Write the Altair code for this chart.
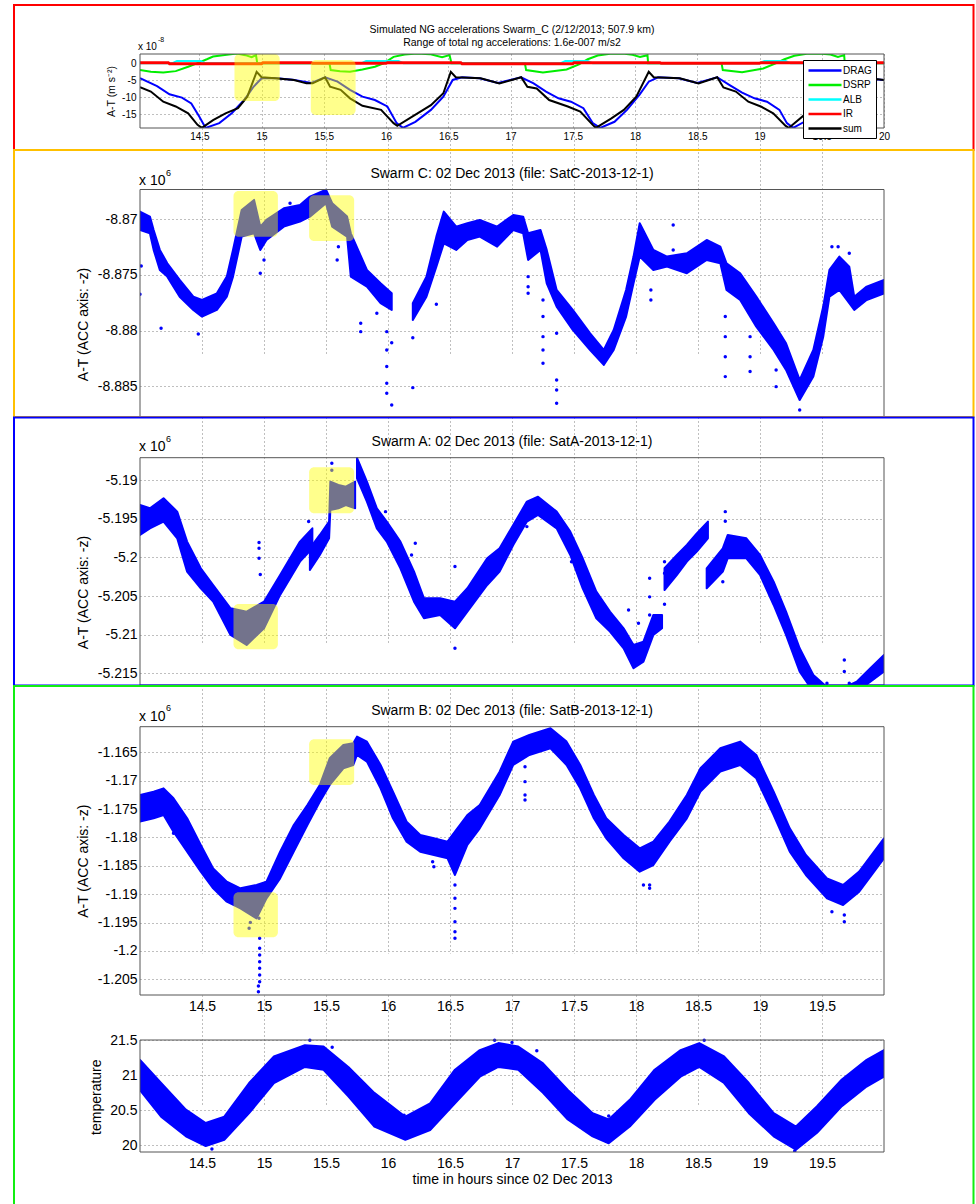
import altair as alt
import pandas as pd

FONT = "Liberation Sans, Arial, Helvetica, sans-serif"
BLUE = "#0000ff"
BORDER = "#555555"
PLOT_W = 744

# time axis (hours since 02 Dec 2013)
T_DOMAIN = [14.0, 20.0]
T_DOMAIN_NG = [14.023, 20.0]
T_TICKS = [14.5, 15.0, 15.5, 16.0, 16.5, 17.0, 17.5, 18.0, 18.5, 19.0, 19.5]
T_TICKS_NG = T_TICKS + [20.0]

# ---------------- simulated non-gravitational accelerations (x 1e-8 m/s2) ----------------
NG_TITLE = ["Simulated NG accelerations Swarm_C (2/12/2013; 507.9 km)",
            "Range of total ng accelerations: 1.6e-007 m/s2"]
NG_Y_DOMAIN = [-19.03, 2.74]
NG_Y_TICKS = [-15, -10, -5, 0]
SERIES = ["DRAG", "DSRP", "ALB", "IR", "sum"]
SERIES_COLORS = ["#0000ff", "#00ee00", "#00ffff", "#ff0000", "#000000"]
SERIES_WIDTHS = [2, 2, 2, 3, 2]

DRAG_T = [14.023, 14.16, 14.26, 14.36, 14.435, 14.50, 14.55, 14.66, 14.76, 14.86,
          14.935, 15.00, 15.10, 15.25, 15.40, 15.51, 15.61, 15.71, 15.81, 15.91,
          16.01, 16.085, 16.135, 16.235, 16.36, 16.46, 16.535, 16.61, 16.75, 16.90,
          17.085, 17.185, 17.285, 17.385, 17.485, 17.585, 17.66, 17.72, 17.835, 17.935,
          18.035, 18.11, 18.185, 18.35, 18.50, 18.66, 18.76, 18.86, 18.96, 19.06,
          19.16, 19.22, 19.27, 19.36, 19.51, 19.64, 19.74, 19.90, 20.00]
DRAG_V = [-4.4, -6.7, -9.1, -10.1, -11.8, -15.7, -19.0, -17.6, -14.7, -10.8,
          -6.9, -4.4, -4.3, -4.8, -5.8, -4.1, -5.4, -7.8, -9.8, -10.8,
          -12.7, -17.6, -19.0, -17.2, -13.7, -9.8, -4.9, -4.1, -4.4, -5.8,
          -4.1, -5.9, -8.3, -10.3, -11.3, -13.2, -17.6, -19.0, -17.2, -13.7,
          -9.3, -5.4, -4.1, -4.4, -5.8, -4.1, -6.4, -8.6, -10.3, -11.3,
          -13.7, -17.6, -19.0, -17.2, -12.7, -7.8, -4.4, -4.6, -4.9]

DSRP_T = [14.023, 14.11, 14.21, 14.31, 14.41, 14.48, 14.56, 14.61, 14.72, 14.80,
          14.87, 14.92, 14.955, 14.965, 15.545, 15.555, 15.63, 15.71, 15.81, 15.91,
          15.98, 16.06, 16.15, 16.25, 16.35, 16.45, 16.51, 16.525, 17.115, 17.125,
          17.26, 17.45, 17.55, 17.62, 17.70, 17.80, 17.90, 17.98, 18.04, 18.10,
          18.105, 18.695, 18.705, 18.86, 19.03, 19.13, 19.20, 19.28, 19.38, 19.48,
          19.57, 19.63, 19.68, 19.685, 20.00]
DSRP_V = [-2.0, -2.5, -2.7, -2.3, -1.0, 0.0, 1.2, 2.0, 2.5, 2.9,
          2.4, 1.8, 2.4, 0.0, 0.0, -2.0, -2.3, -2.5, -1.8, -1.0,
          0.0, 1.9, 2.6, 2.9, 2.7, 1.8, 2.4, 0.0, 0.0, -2.0,
          -2.7, -1.8, -0.3, 1.2, 2.3, 2.8, 2.9, 2.5, 1.9, 2.4,
          0.0, 0.0, -2.0, -2.6, -1.5, 0.0, 1.2, 2.2, 2.8, 2.9,
          2.6, 1.9, 2.4, 0.0, 0.0]

ALB_T = [14.023, 14.28, 14.32, 14.51, 14.55, 15.80, 15.84, 16.10, 16.14,
         17.40, 17.44, 17.62, 17.66, 19.00, 19.04, 19.21, 19.25, 20.00]
ALB_V = [0.0, 0.0, 0.7, 0.7, 0.0, 0.0, 0.7, 0.7, 0.0,
         0.0, 0.7, 0.7, 0.0, 0.0, 0.7, 0.7, 0.0, 0.0]

IR_T = [14.023, 14.25, 14.26, 15.00, 15.01, 15.40, 15.41, 16.00, 16.01,
        16.60, 16.61, 17.50, 17.51, 18.20, 18.21, 19.00, 19.01, 20.00]
IR_V = [0.2, 0.2, -0.1, -0.1, 0.2, 0.2, 0.0, 0.0, 0.2,
        0.2, -0.1, -0.1, 0.2, 0.2, 0.0, 0.0, 0.2, 0.2]

SUM_T = [14.023, 14.11, 14.21, 14.31, 14.41, 14.485, 14.52, 14.61, 14.71, 14.81,
         14.885, 14.96, 15.00, 15.11, 15.26, 15.36, 15.41, 15.51, 15.55, 15.635,
         15.71, 15.81, 15.96, 16.06, 16.09, 16.21, 16.36, 16.46, 16.52, 16.56,
         16.76, 16.91, 17.01, 17.085, 17.135, 17.21, 17.31, 17.46, 17.56, 17.66,
         17.685, 17.81, 17.91, 18.01, 18.11, 18.15, 18.36, 18.51, 18.66, 18.71,
         18.81, 18.91, 19.01, 19.11, 19.21, 19.235, 19.36, 19.51, 19.61, 19.69,
         19.73, 19.90, 20.00]
SUM_V = [-7.0, -8.3, -11.3, -12.7, -14.7, -18.1, -19.0, -16.7, -14.7, -13.2,
         -9.8, -2.5, -4.1, -4.4, -4.9, -5.9, -5.9, -4.1, -6.9, -7.8,
         -10.3, -12.5, -13.7, -17.6, -18.4, -15.7, -12.3, -8.8, -2.5, -4.1,
         -4.4, -5.9, -4.9, -4.1, -6.9, -7.4, -10.8, -12.7, -14.2, -18.1,
         -19.0, -16.2, -13.7, -9.8, -2.5, -4.1, -4.4, -5.9, -4.1, -7.1,
         -8.3, -11.3, -12.7, -14.7, -18.4, -19.0, -15.2, -12.8, -9.5, -2.5,
         -4.1, -4.5, -4.9]

NG_BOX_T0 = [14.782, 15.395]
NG_BOX_T1 = [15.145, 15.755]
NG_BOX_V0 = [2.74, 0.97]
NG_BOX_V1 = [-11.1, -15.2]

# ---------------- Swarm C (A-T, x 1e6) ----------------
C_TITLE = "Swarm C: 02 Dec 2013 (file: SatC-2013-12-1)"
C_Y_DOMAIN = [-8.887757, -8.867325]
C_Y_TICKS = [-8.885, -8.88, -8.875, -8.87]
C1_T = [14.00, 14.08, 14.11, 14.16, 14.22, 14.32, 14.43, 14.50, 14.62, 14.70,
        14.75, 14.82, 14.92, 14.97, 15.02, 15.16, 15.29, 15.37, 15.50, 15.55,
        15.67, 15.70, 15.83, 15.94, 16.03]
C1_HI = [-8.86931, -8.86976, -8.87096, -8.87275, -8.87395, -8.87545, -8.87695, -8.87725, -8.87665, -8.87515,
         -8.87275, -8.86916, -8.86826, -8.87066, -8.87006, -8.86901, -8.86871, -8.86796, -8.86735, -8.86856,
         -8.86976, -8.87126, -8.87455, -8.87575, -8.87665]
C1_LO = [-8.87096, -8.87126, -8.87275, -8.87455, -8.87515, -8.87695, -8.87814, -8.87874, -8.87814, -8.87695,
         -8.87515, -8.87156, -8.87126, -8.87275, -8.87186, -8.87066, -8.87021, -8.86976, -8.86856, -8.87066,
         -8.87156, -8.87515, -8.87605, -8.87754, -8.87814]
C2_T = [16.20, 16.31, 16.39, 16.45, 16.55, 16.64, 16.74, 16.88, 17.01, 17.09,
        17.13, 17.23, 17.28, 17.36, 17.49, 17.63, 17.74, 17.82, 17.92, 17.98,
        18.03, 18.14, 18.25, 18.41, 18.57, 18.68, 18.73, 18.84, 18.97, 19.11,
        19.21, 19.32, 19.43, 19.51, 19.56, 19.64, 19.72, 19.76, 19.86, 20.00]
C2_HI = [-8.87754, -8.87515, -8.87156, -8.86931, -8.87066, -8.87036, -8.87006, -8.87066, -8.86961, -8.86976,
         -8.87126, -8.87096, -8.87275, -8.87635, -8.87814, -8.88024, -8.88174, -8.87994, -8.87635, -8.87335,
         -8.87036, -8.87275, -8.87335, -8.87305, -8.87186, -8.87246, -8.87395, -8.87485, -8.87695, -8.87934,
         -8.88114, -8.88443, -8.88174, -8.87784, -8.87455, -8.87335, -8.87425, -8.87695, -8.87605, -8.87545]
C2_LO = [-8.87904, -8.87695, -8.87425, -8.87216, -8.87275, -8.87186, -8.87156, -8.87246, -8.87096, -8.87126,
         -8.87365, -8.87275, -8.87575, -8.87784, -8.87994, -8.88174, -8.88308, -8.88174, -8.87874, -8.87575,
         -8.87335, -8.87455, -8.87425, -8.87485, -8.87365, -8.87395, -8.87635, -8.87725, -8.87964, -8.88174,
         -8.88353, -8.88623, -8.88413, -8.88054, -8.87695, -8.87635, -8.87754, -8.87814, -8.87725, -8.87665]
C_OUT_T = [14.01, 14.00, 14.17, 14.47, 15.21, 15.00, 14.97, 15.59, 15.60, 15.78,
           15.78, 15.91, 15.99, 15.99, 15.99, 15.99, 15.99, 16.03, 16.03, 16.20,
           16.20, 16.39, 17.13, 17.13, 17.13, 17.25, 17.25, 17.25, 17.25, 17.25,
           17.36, 17.36, 17.36, 17.36, 18.12, 18.12, 18.30, 18.30, 18.72, 18.72,
           18.72, 18.72, 18.92, 18.92, 18.92, 19.13, 19.13, 19.27, 19.32, 19.58,
           19.63, 19.72]
C_OUT_V = [-8.87419, -8.87674, -8.87979, -8.88030, -8.86856, -8.87365, -8.87485, -8.87365, -8.87246, -8.87934,
           -8.88009, -8.87844, -8.88009, -8.88174, -8.88323, -8.88473, -8.88563, -8.88108, -8.88668, -8.88063,
           -8.88512, -8.87763, -8.87515, -8.87605, -8.87665, -8.87725, -8.87874, -8.88054, -8.88174, -8.88293,
           -8.88024, -8.88443, -8.88533, -8.88653, -8.87635, -8.87725, -8.87051, -8.87275, -8.87874, -8.88054,
           -8.88234, -8.88413, -8.88054, -8.88234, -8.88368, -8.88353, -8.88503, -8.88353, -8.88713, -8.87246,
           -8.87246, -8.87305]
C_BOX_T0 = [14.754, 15.364]
C_BOX_T1 = [15.112, 15.727]
C_BOX_V0 = [-8.86746, -8.86785]
C_BOX_V1 = [-8.87156, -8.87195]

# ---------------- Swarm A ----------------
A_TITLE = "Swarm A: 02 Dec 2013 (file: SatA-2013-12-1)"
A_Y_DOMAIN = [-5.216516, -5.187073]
A_Y_TICKS = [-5.215, -5.21, -5.205, -5.2, -5.195, -5.19]
A1_T = [14.00, 14.08, 14.19, 14.30, 14.38, 14.49, 14.59, 14.73, 14.86, 15.00, 15.13, 15.29, 15.39]
A1_HI = [-5.19320, -5.19363, -5.19233, -5.19406, -5.19794, -5.20140, -5.20356, -5.20658, -5.20701, -5.20572,
         -5.20226, -5.19794, -5.19622]
A1_LO = [-5.19708, -5.19622, -5.19535, -5.19751, -5.20183, -5.20399, -5.20572, -5.21003, -5.21133, -5.20917,
         -5.20485, -5.20054, -5.19881]
A2_T = [15.37, 15.45, 15.525, 15.535, 15.60, 15.66, 15.735]
A2_HI = [-5.19881, -5.19708, -5.19535, -5.19017, -5.19060, -5.19082, -5.19017]
A2_LO = [-5.20161, -5.19967, -5.19751, -5.19384, -5.19363, -5.19320, -5.19363]
A3_T = [15.75, 15.83, 15.91, 15.99, 16.10, 16.21, 16.29, 16.42, 16.54, 16.64,
        16.80, 16.90, 17.01, 17.12, 17.21, 17.36, 17.47, 17.57, 17.68, 17.79,
        17.90, 17.98, 18.06, 18.14, 18.21]
A3_HI = [-5.18710, -5.19017, -5.19363, -5.19535, -5.19794, -5.20183, -5.20529, -5.20529, -5.20572, -5.20399,
         -5.20010, -5.19881, -5.19579, -5.19276, -5.19212, -5.19406, -5.19665, -5.20010, -5.20442, -5.20701,
         -5.20917, -5.21133, -5.21090, -5.20744, -5.20744]
A3_LO = [-5.18974, -5.19276, -5.19622, -5.19794, -5.20140, -5.20572, -5.20788, -5.20744, -5.20917, -5.20701,
         -5.20356, -5.20183, -5.19838, -5.19535, -5.19449, -5.19622, -5.19967, -5.20399, -5.20788, -5.20960,
         -5.21176, -5.21435, -5.21349, -5.21003, -5.20917]
A4_T = [18.23, 18.33, 18.41, 18.49, 18.58]
A4_HI = [-5.20140, -5.19967, -5.19838, -5.19687, -5.19535]
A4_LO = [-5.20421, -5.20226, -5.20054, -5.19924, -5.19751]
A5_T = [18.57, 18.70, 18.74, 18.89, 19.00, 19.11, 19.21, 19.32, 19.43, 19.59, 19.78, 19.89, 20.00]
A5_HI = [-5.20140, -5.19881, -5.19708, -5.19751, -5.19967, -5.20313, -5.20701, -5.21176, -5.21522, -5.21750,
         -5.21608, -5.21435, -5.21263]
A5_LO = [-5.20399, -5.20183, -5.20010, -5.20010, -5.20226, -5.20615, -5.21003, -5.21478, -5.21738, -5.21950,
         -5.21738, -5.21608, -5.21478]
A_OUT_T = [14.96, 14.96, 14.96, 14.97, 15.36, 15.547, 15.547, 15.98, 16.19, 16.22,
           16.54, 16.54, 17.12, 17.48, 17.94, 18.02, 18.11, 18.11, 18.11, 18.23,
           18.23, 18.23, 18.70, 18.72, 18.72, 19.68, 19.68, 19.54, 19.72]
A_OUT_V = [-5.19807, -5.19880, -5.20010, -5.20220, -5.19535, -5.18780, -5.18870, -5.19406, -5.19967, -5.19816,
           -5.20118, -5.21176, -5.19600, -5.20054, -5.20680, -5.20852, -5.20269, -5.20510, -5.20744, -5.20054,
           -5.20205, -5.20606, -5.20313, -5.19406, -5.19530, -5.21327, -5.21478, -5.21630, -5.21630]
A_BOX_T0 = [14.754, 15.364]
A_BOX_T1 = [15.112, 15.727]
A_BOX_V0 = [-5.20602, -5.18832]
A_BOX_V1 = [-5.21189, -5.19427]

# ---------------- Swarm B ----------------
B_TITLE = "Swarm B: 02 Dec 2013 (file: SatB-2013-12-1)"
B_Y_DOMAIN = [-1.207767, -1.160489]
B_Y_TICKS = [-1.205, -1.2, -1.195, -1.19, -1.185, -1.18, -1.175, -1.17, -1.165]
B1_T = [14.00, 14.11, 14.19, 14.27, 14.38, 14.49, 14.59, 14.70, 14.81, 14.94,
        15.02, 15.13, 15.24, 15.35, 15.45, 15.53, 15.64, 15.72, 15.75, 15.83,
        15.94, 16.04, 16.15, 16.26, 16.37, 16.48, 16.54, 16.64, 16.74, 16.90,
        17.01, 17.14, 17.31, 17.44, 17.55, 17.66, 17.76, 17.90, 18.03, 18.14,
        18.27, 18.41, 18.52, 18.68, 18.84, 18.97, 19.11, 19.24, 19.37, 19.54,
        19.67, 19.80, 20.00]
B1_HI = [-1.17252, -1.17193, -1.17135, -1.17311, -1.17663, -1.18133, -1.18545, -1.18780, -1.18897, -1.18838,
         -1.18780, -1.18251, -1.17781, -1.17428, -1.17076, -1.16606, -1.16371, -1.16341, -1.16224, -1.16312,
         -1.16723, -1.17193, -1.17722, -1.17957, -1.18016, -1.18075, -1.17898, -1.17605, -1.17428, -1.16841,
         -1.16312, -1.16195, -1.16077, -1.16312, -1.16723, -1.17252, -1.17663, -1.17957, -1.18192, -1.18075,
         -1.17722, -1.17252, -1.16782, -1.16429, -1.16312, -1.16547, -1.17193, -1.17840, -1.18310, -1.18721,
         -1.18838, -1.18603, -1.18016]
B1_LO = [-1.17722, -1.17663, -1.17605, -1.17898, -1.18251, -1.18603, -1.18897, -1.19132, -1.19250, -1.19426,
         -1.19073, -1.18721, -1.18251, -1.17781, -1.17370, -1.17076, -1.16782, -1.16723, -1.16547, -1.16665,
         -1.17135, -1.17663, -1.18075, -1.18251, -1.18310, -1.18368, -1.18662, -1.18133, -1.17840, -1.17252,
         -1.16723, -1.16547, -1.16429, -1.16723, -1.17135, -1.17663, -1.18016, -1.18368, -1.18603, -1.18486,
         -1.18075, -1.17663, -1.17193, -1.16841, -1.16723, -1.16958, -1.17605, -1.18251, -1.18662, -1.19073,
         -1.19191, -1.18956, -1.18368]
B_OUT_T = [14.27, 14.89, 14.88, 14.96, 14.965, 14.965, 14.965, 14.965, 14.965, 14.965,
           14.965, 14.955, 14.955, 16.54, 16.54, 16.54, 16.54, 16.54, 16.54, 16.37,
           16.36, 17.105, 17.105, 17.105, 17.105, 18.06, 18.11, 18.11, 19.58, 19.68,
           19.68]
B_OUT_V = [-1.17927, -1.19497, -1.19602, -1.19426, -1.19778, -1.19954, -1.20072, -1.20190, -1.20307, -1.20425,
           -1.20542, -1.20620, -1.20720, -1.18838, -1.19073, -1.19250, -1.19485, -1.19661, -1.19778, -1.18515,
           -1.18427, -1.16753, -1.17017, -1.17252, -1.17340, -1.18838, -1.18838, -1.18897, -1.19308, -1.19367,
           -1.19485]
B_BOX_T0 = [14.754, 15.364]
B_BOX_T1 = [15.112, 15.727]
B_BOX_V0 = [-1.18967, -1.16271]
B_BOX_V1 = [-1.19760, -1.17076]

# ---------------- temperature ----------------
TEMP_Y_DOMAIN = [19.906, 21.504]
TEMP_Y_TICKS = [20.0, 20.5, 21.0, 21.5]
TEMP_T = [14.00, 14.17, 14.37, 14.53, 14.68, 14.88, 15.08, 15.33, 15.48, 15.68,
          15.89, 16.14, 16.34, 16.54, 16.74, 16.89, 17.05, 17.25, 17.45, 17.65,
          17.78, 17.95, 18.15, 18.36, 18.51, 18.71, 18.91, 19.11, 19.29, 19.46,
          19.66, 19.86, 20.00]
TEMP_HI = [21.22, 20.89, 20.51, 20.32, 20.41, 20.89, 21.27, 21.43, 21.41, 21.12,
           20.75, 20.41, 20.60, 21.08, 21.36, 21.46, 21.41, 21.17, 20.79, 20.46,
           20.37, 20.65, 21.08, 21.36, 21.46, 21.27, 20.89, 20.46, 20.27, 20.56,
           20.94, 21.22, 21.36]
TEMP_LO = [20.79, 20.41, 20.13, 19.99, 20.08, 20.46, 20.89, 21.12, 21.08, 20.70,
           20.27, 20.08, 20.22, 20.60, 20.98, 21.12, 21.08, 20.75, 20.37, 20.13,
           20.03, 20.27, 20.65, 20.98, 21.12, 20.89, 20.46, 20.13, 19.94, 20.18,
           20.56, 20.84, 20.98]
TEMP_OUT_T = [14.58, 15.37, 15.55, 16.86, 17.00, 17.20, 18.55, 19.28, 17.78, 16.13]
TEMP_OUT_V = [19.95, 21.50, 21.40, 21.50, 21.47, 21.35, 21.50, 19.92, 20.42, 20.43]

X_TITLE = "time in hours since 02 Dec 2013"
Y_TITLE = "A-T (ACC axis: -z)"

# frame outlines around each block of the figure (pixel offsets from each plot's origin)
FRAME_X0, FRAME_X1 = -126, 833.5


def minus_expr(fmt):
    return "replace(format(datum.value, '%s'), '\u2212', '-')" % fmt


def band_frame(segments):
    rows = []
    for k, (ts, his, los) in enumerate(segments):
        assert len(ts) == len(his) == len(los)
        for t, h, l in zip(ts, his, los):
            rows.append({"seg": k, "t": t, "hi": h, "lo": l})
    return pd.DataFrame(rows)


def box_frame(t0, t1, v0, v1):
    return pd.DataFrame({"x0": t0, "x1": t1, "y0": v0, "y1": v1})


def text_layer(label, x, y, size, align="left"):
    return alt.Chart(pd.DataFrame({"label": [label]})).mark_text(
        font=FONT, fontSize=size, align=align, baseline="middle", color="black"
    ).encode(x=alt.value(x), y=alt.value(y), text="label:N")


def frame_layer(color, y0, y1):
    return alt.Chart(pd.DataFrame({"k": [0]})).mark_rect(
        filled=False, stroke=color, strokeWidth=2
    ).encode(x=alt.value(FRAME_X0), x2=alt.value(FRAME_X1), y=alt.value(y0), y2=alt.value(y1))


def axes_box(xs, ys, xax, yax, xdom, ydom):
    df = pd.DataFrame({"x0": [xdom[0]], "x1": [xdom[1]], "y0": [ydom[0]], "y1": [ydom[1]]})
    return alt.Chart(df).mark_rect(filled=False, stroke=BORDER, strokeWidth=1).encode(
        x=alt.X("x0:Q", scale=xs, axis=xax), x2="x1:Q",
        y=alt.Y("y0:Q", scale=ys, axis=yax), y2="y1:Q")


def highlight(xs, ys, xax, yax, boxes):
    return alt.Chart(boxes).mark_rect(color="#ffff00", opacity=0.45, cornerRadius=5).encode(
        x=alt.X("x0:Q", scale=xs, axis=xax), x2="x1:Q",
        y=alt.Y("y0:Q", scale=ys, axis=yax), y2="y1:Q")


def data_panel(bands, out_t, out_v, ydom, yrange, ticks, fmt,
               ytitle, ytitle_x, ytitle_y, xlabels, xtitle=None, boxes=None):
    xs = alt.Scale(domain=T_DOMAIN, nice=False, zero=False)
    ys = alt.Scale(domain=ydom, range=yrange, nice=False, zero=False)
    xaxis = alt.Axis(values=T_TICKS, labels=xlabels, format="~g", ticks=False, tickSize=0,
                     domain=False, grid=True, labelFontSize=14, labelPadding=4,
                     labelFlush=False, labelOverlap=False,
                     title=xtitle, titleFontSize=14, titlePadding=2)
    yaxis = alt.Axis(values=ticks, labelExpr=minus_expr(fmt), ticks=False, tickSize=0,
                     domain=False, grid=True, labelFontSize=14, labelPadding=3,
                     title=ytitle, titleFontSize=14, titleX=ytitle_x, titleY=ytitle_y,
                     titleBaseline="middle")
    band = alt.Chart(band_frame(bands)).mark_area(
        color=BLUE, stroke=BLUE, strokeWidth=2, strokeJoin="round", opacity=1, clip=True
    ).encode(
        x=alt.X("t:Q", scale=xs, axis=xaxis),
        y=alt.Y("hi:Q", scale=ys, axis=yaxis),
        y2="lo:Q",
        detail="seg:N",
    )
    pts = alt.Chart(pd.DataFrame({"t": out_t, "v": out_v})).mark_circle(
        size=12, color=BLUE, opacity=1, clip=True
    ).encode(x=alt.X("t:Q", scale=xs, axis=xaxis), y=alt.Y("v:Q", scale=ys, axis=yaxis))
    layers = [band, pts]
    if boxes is not None:
        layers.append(highlight(xs, ys, xaxis, yaxis, boxes))
    layers.append(axes_box(xs, ys, xaxis, yaxis, T_DOMAIN, ydom))
    return layers


# ---------------- top panel ----------------
ng_xs = alt.Scale(domain=T_DOMAIN_NG, nice=False, zero=False)
ng_ys = alt.Scale(domain=NG_Y_DOMAIN, nice=False, zero=False)
ng_df = pd.concat([
    pd.DataFrame({"series": name, "t": ts, "v": vs})
    for name, ts, vs in zip(SERIES, [DRAG_T, DSRP_T, ALB_T, IR_T, SUM_T],
                            [DRAG_V, DSRP_V, ALB_V, IR_V, SUM_V])
])
# legend line samples run from the entry origin to the right of the nominal symbol box
ng_legend = alt.Legend(orient="none", legendX=663, legendY=6, title=None,
                       fillColor="white", strokeColor="black", padding=4, cornerRadius=0,
                       symbolType="M-1,0H5.6", symbolSize=100, symbolStrokeWidth=2.5,
                       labelFontSize=10, labelFont=FONT, labelOffset=23, rowPadding=2.5)
ng_xaxis = alt.Axis(values=T_TICKS_NG, format="~g", ticks=False, tickSize=0, domain=False,
                    grid=True, labelFontSize=10, labelPadding=3, labelFlush=False,
                    labelOverlap=False, title=None)
ng_yaxis = alt.Axis(values=NG_Y_TICKS, labelExpr=minus_expr("~g"), ticks=False, tickSize=0,
                    domain=False, grid=True, labelFontSize=10, labelPadding=4,
                    title="A-T (m s\u207b\u00b2)", titleFontSize=10.5, titleX=-29, titleY=37,
                    titleBaseline="middle")
ng_layers = []
for name, w in zip(SERIES, SERIES_WIDTHS):
    ng_layers.append(
        alt.Chart(ng_df).transform_filter(alt.datum.series == name).mark_line(
            strokeWidth=w, clip=True
        ).encode(
            x=alt.X("t:Q", scale=ng_xs, axis=ng_xaxis),
            y=alt.Y("v:Q", scale=ng_ys, axis=ng_yaxis),
            color=alt.Color("series:N", scale=alt.Scale(domain=SERIES, range=SERIES_COLORS),
                            legend=ng_legend),
        )
    )
ng_layers.append(highlight(ng_xs, ng_ys, ng_xaxis, ng_yaxis,
                           box_frame(NG_BOX_T0, NG_BOX_T1, NG_BOX_V0, NG_BOX_V1)))
ng_layers.append(axes_box(ng_xs, ng_ys, ng_xaxis, ng_yaxis, T_DOMAIN_NG, NG_Y_DOMAIN))
ng_layers += [
    text_layer(NG_TITLE[0], 372, -24, 10.5, align="center"),
    text_layer(NG_TITLE[1], 372, -11.3, 10.5, align="center"),
    text_layer("x 10", -2, -7.3, 10),
    text_layer("-8", 18, -14, 7),
    frame_layer("#ff0000", -49, 96),
]
s0 = alt.layer(*ng_layers).properties(width=PLOT_W, height=74)

# ---------------- Swarm C ----------------
c_layers = data_panel([(C1_T, C1_HI, C1_LO), (C2_T, C2_HI, C2_LO)], C_OUT_T, C_OUT_V,
                      C_Y_DOMAIN, [289, 61.5], C_Y_TICKS, ".3~f",
                      Y_TITLE, -57, 196, False,
                      boxes=box_frame(C_BOX_T0, C_BOX_T1, C_BOX_V0, C_BOX_V1))
c_layers += [
    text_layer(C_TITLE, 372, 46, 14, align="center"),
    text_layer("x 10", -1, 52.7, 14),
    text_layer("6", 26, 44.5, 9),
    frame_layer("#ffc000", 22, 289),
]
s1 = alt.layer(*c_layers).properties(width=PLOT_W, height=289)

# ---------------- Swarm A ----------------
a_layers = data_panel([(A1_T, A1_HI, A1_LO), (A2_T, A2_HI, A2_LO), (A3_T, A3_HI, A3_LO),
                       (A4_T, A4_HI, A4_LO), (A5_T, A5_HI, A5_LO)], A_OUT_T, A_OUT_V,
                      A_Y_DOMAIN, [268, 40.7], A_Y_TICKS, ".3~f",
                      Y_TITLE, -57, 175, False,
                      boxes=box_frame(A_BOX_T0, A_BOX_T1, A_BOX_V0, A_BOX_V1))
a_layers += [
    text_layer(A_TITLE, 372, 24.7, 14, align="center"),
    text_layer("x 10", -1, 30.3, 14),
    text_layer("6", 26, 22, 9),
    frame_layer("#0000ff", 0.5, 268.5),
]
s2 = alt.layer(*a_layers).properties(width=PLOT_W, height=268)

# ---------------- Swarm B ----------------
b_layers = data_panel([(B1_T, B1_HI, B1_LO)], B_OUT_T, B_OUT_V,
                      B_Y_DOMAIN, [310, 41.7], B_Y_TICKS, ".3~f",
                      Y_TITLE, -57, 175.7, True,
                      boxes=box_frame(B_BOX_T0, B_BOX_T1, B_BOX_V0, B_BOX_V1))
b_layers += [
    text_layer(B_TITLE, 372, 26, 14, align="center"),
    text_layer("x 10", -1, 31.7, 14),
    text_layer("6", 26, 23.3, 9),
    frame_layer("#11ee11", 1, 530),
]
s3 = alt.layer(*b_layers).properties(width=PLOT_W, height=310)

# ---------------- temperature ----------------
t_layers = data_panel([(TEMP_T, TEMP_HI, TEMP_LO)], TEMP_OUT_T, TEMP_OUT_V,
                      TEMP_Y_DOMAIN, [157, 45], TEMP_Y_TICKS, ".1~f",
                      "temperature", -43.5, 101.7, True, xtitle=X_TITLE)
s4 = alt.layer(*t_layers).properties(width=PLOT_W, height=157)

chart = alt.vconcat(s0, s1, s2, s3, s4, spacing=0, bounds="flush").properties(
    padding={"left": 13, "top": 4, "right": 0, "bottom": 0}
).configure(
    font=FONT
).configure_view(
    stroke=None
).configure_axis(
    labelFont=FONT, titleFont=FONT, labelColor="black", titleColor="black",
    titleFontWeight="normal", gridColor="#7f7f7f", gridDash=[1, 3], gridOpacity=1, gridWidth=1
)

chart.save("out.html", embed_options={"renderer": "svg", "actions": False})
